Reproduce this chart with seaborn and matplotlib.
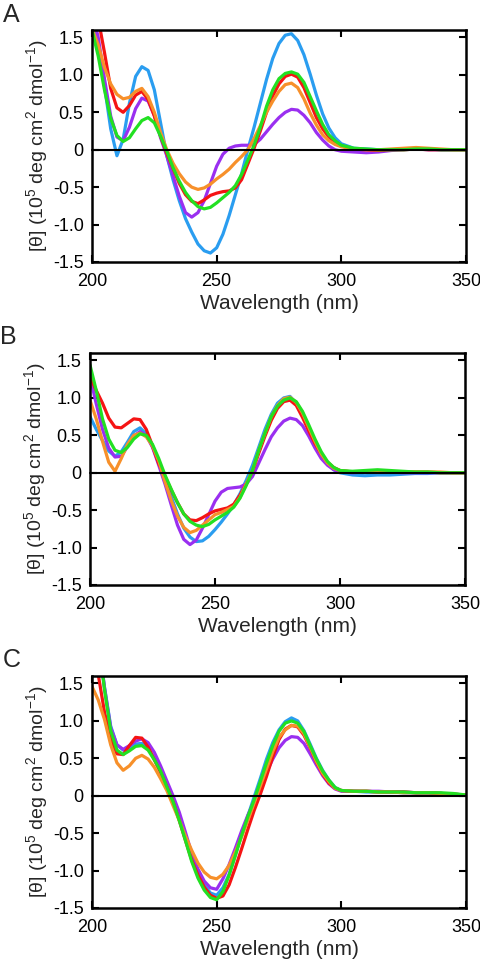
import matplotlib
matplotlib.use("Agg")
import matplotlib.pyplot as plt
import seaborn as sns
import pandas as pd

sns.set_style("ticks")
plt.rcParams['font.family'] = ['Liberation Sans', 'DejaVu Sans']
plt.rcParams['mathtext.default'] = 'regular'

# wavelength grid (nm)
wavelength = [200, 202.5, 205, 207.5, 210, 212.5, 215, 217.5, 220, 222.5,
              225, 227.5, 230, 232.5, 235, 237.5, 240, 242.5, 245, 247.5,
              250, 252.5, 255, 257.5, 260, 262.5, 265, 267.5, 270, 272.5,
              275, 277.5, 280, 282.5, 285, 287.5, 290, 292.5, 295, 297.5,
              300, 305, 310, 315, 320, 325, 330, 335, 340, 345, 350]

samples = ["blue", "purple", "red", "orange", "green"]
colors = {"blue": "#2a9df0", "purple": "#9a2ff0", "red": "#f51414",
          "orange": "#f7902a", "green": "#22e022"}

# ---- Panel A ----
A_blue = [1.75, 1.35, 0.85, 0.28, -0.08, 0.14, 0.62, 0.98, 1.11, 1.06,
          0.80, 0.36, -0.08, -0.40, -0.68, -0.92, -1.10, -1.26, -1.35, -1.38,
          -1.31, -1.13, -0.88, -0.60, -0.32, 0.00, 0.30, 0.62, 0.94, 1.22,
          1.42, 1.53, 1.55, 1.46, 1.27, 1.01, 0.73, 0.48, 0.29, 0.16,
          0.08, 0.02, 0.01, 0.00, 0.00, 0.01, 0.02, 0.01, 0.00, 0.00, 0.00]
A_red = [2.10, 1.75, 1.30, 0.82, 0.56, 0.50, 0.59, 0.73, 0.78, 0.67,
         0.45, 0.18, -0.05, -0.25, -0.45, -0.60, -0.69, -0.72, -0.67, -0.61,
         -0.58, -0.56, -0.55, -0.51, -0.40, -0.19, 0.02, 0.25, 0.50, 0.72,
         0.88, 0.98, 1.01, 0.97, 0.83, 0.63, 0.43, 0.28, 0.17, 0.10,
         0.05, 0.01, 0.00, -0.01, 0.00, 0.00, 0.01, 0.00, 0.00, 0.00, 0.00]
A_orange = [1.62, 1.40, 1.10, 0.88, 0.74, 0.68, 0.70, 0.78, 0.82, 0.71,
            0.50, 0.23, 0.00, -0.18, -0.32, -0.43, -0.50, -0.53, -0.51, -0.46,
            -0.39, -0.33, -0.26, -0.17, -0.09, 0.00, 0.15, 0.32, 0.50, 0.65,
            0.78, 0.87, 0.89, 0.83, 0.68, 0.49, 0.33, 0.20, 0.12, 0.07,
            0.04, 0.01, 0.00, 0.00, 0.01, 0.02, 0.03, 0.02, 0.01, 0.00, 0.00]
A_purple = [1.85, 1.50, 0.95, 0.45, 0.17, 0.12, 0.30, 0.55, 0.69, 0.65,
            0.46, 0.16, -0.08, -0.35, -0.62, -0.84, -0.90, -0.84, -0.68, -0.45,
            -0.22, -0.06, 0.02, 0.05, 0.06, 0.06, 0.07, 0.14, 0.24, 0.34,
            0.43, 0.50, 0.54, 0.53, 0.46, 0.36, 0.23, 0.13, 0.05, 0.00,
            -0.02, -0.03, -0.04, -0.03, -0.01, 0.00, 0.01, 0.00, 0.00, 0.00, 0.00]
A_green = [1.60, 1.25, 0.80, 0.42, 0.19, 0.11, 0.16, 0.28, 0.39, 0.43,
           0.36, 0.18, -0.02, -0.24, -0.42, -0.57, -0.68, -0.76, -0.79, -0.77,
           -0.71, -0.64, -0.57, -0.48, -0.33, -0.14, 0.06, 0.30, 0.58, 0.80,
           0.95, 1.02, 1.04, 1.01, 0.90, 0.71, 0.52, 0.34, 0.20, 0.12,
           0.06, 0.02, 0.01, 0.00, 0.00, 0.00, 0.01, 0.01, 0.00, 0.00, 0.00]

# ---- Panel B ----
B_red = [1.28, 1.10, 0.93, 0.73, 0.61, 0.60, 0.66, 0.72, 0.71, 0.58,
         0.36, 0.12, -0.05, -0.23, -0.40, -0.55, -0.63, -0.64, -0.60, -0.55,
         -0.51, -0.49, -0.47, -0.42, -0.30, -0.15, 0.02, 0.26, 0.49, 0.70,
         0.86, 0.95, 0.97, 0.90, 0.74, 0.56, 0.39, 0.25, 0.14, 0.07,
         0.03, 0.01, 0.01, 0.01, 0.01, 0.01, 0.01, 0.01, 0.00, 0.00, 0.00]
B_blue = [0.75, 0.58, 0.43, 0.29, 0.22, 0.28, 0.41, 0.55, 0.60, 0.52,
          0.35, 0.13, -0.08, -0.32, -0.55, -0.74, -0.86, -0.92, -0.91, -0.85,
          -0.76, -0.66, -0.55, -0.43, -0.28, -0.10, 0.10, 0.34, 0.58, 0.78,
          0.93, 1.00, 1.02, 0.93, 0.78, 0.60, 0.41, 0.25, 0.12, 0.04,
          0.00, -0.03, -0.04, -0.03, -0.03, -0.02, -0.01, -0.01, 0.00, 0.00, 0.00]
B_orange = [0.97, 0.72, 0.42, 0.14, 0.02, 0.19, 0.38, 0.50, 0.53, 0.48,
            0.36, 0.16, -0.12, -0.37, -0.58, -0.73, -0.80, -0.77, -0.70, -0.63,
            -0.56, -0.53, -0.49, -0.45, -0.33, -0.15, 0.03, 0.30, 0.53, 0.75,
            0.90, 0.99, 1.01, 0.94, 0.80, 0.61, 0.42, 0.25, 0.13, 0.06,
            0.03, 0.01, 0.01, 0.02, 0.01, 0.01, 0.01, 0.01, 0.01, 0.00, 0.00]
B_purple = [1.29, 0.92, 0.58, 0.33, 0.21, 0.22, 0.35, 0.49, 0.55, 0.50,
            0.34, 0.10, -0.15, -0.43, -0.70, -0.89, -0.96, -0.90, -0.74, -0.56,
            -0.38, -0.26, -0.21, -0.20, -0.19, -0.15, -0.05, 0.13, 0.31, 0.48,
            0.60, 0.69, 0.73, 0.71, 0.63, 0.49, 0.33, 0.19, 0.10, 0.04,
            0.01, 0.00, 0.01, 0.01, 0.01, 0.00, 0.00, 0.00, 0.00, 0.00, 0.00]
B_green = [1.44, 1.10, 0.72, 0.45, 0.30, 0.27, 0.34, 0.45, 0.52, 0.50,
           0.38, 0.19, -0.03, -0.22, -0.40, -0.55, -0.65, -0.70, -0.72, -0.69,
           -0.63, -0.58, -0.53, -0.46, -0.34, -0.17, 0.03, 0.30, 0.53, 0.75,
           0.89, 0.97, 1.00, 0.95, 0.82, 0.64, 0.45, 0.28, 0.15, 0.07,
           0.03, 0.02, 0.03, 0.04, 0.03, 0.02, 0.01, 0.01, 0.00, 0.00, 0.00]

# ---- Panel C ----
C_red = [2.10, 1.62, 1.12, 0.76, 0.56, 0.55, 0.67, 0.78, 0.77, 0.65,
         0.48, 0.31, 0.12, -0.08, -0.33, -0.60, -0.86, -1.06, -1.22, -1.33,
         -1.37, -1.34, -1.19, -0.96, -0.71, -0.45, -0.20, 0.02, 0.26, 0.52,
         0.75, 0.89, 0.94, 0.92, 0.81, 0.64, 0.45, 0.29, 0.17, 0.10,
         0.07, 0.06, 0.06, 0.05, 0.05, 0.05, 0.04, 0.04, 0.03, 0.02, 0.01]
C_orange = [1.46, 1.28, 1.02, 0.68, 0.44, 0.34, 0.40, 0.50, 0.54, 0.49,
            0.38, 0.23, 0.07, -0.13, -0.33, -0.54, -0.73, -0.90, -1.02, -1.09,
            -1.11, -1.05, -0.93, -0.75, -0.55, -0.33, -0.10, 0.13, 0.36, 0.59,
            0.78, 0.88, 0.94, 0.93, 0.83, 0.65, 0.46, 0.30, 0.19, 0.10,
            0.07, 0.06, 0.06, 0.05, 0.05, 0.04, 0.04, 0.04, 0.03, 0.02, 0.01]
C_blue = [2.30, 2.10, 1.45, 0.93, 0.68, 0.61, 0.64, 0.69, 0.70, 0.63,
          0.50, 0.34, 0.15, -0.05, -0.30, -0.56, -0.83, -1.03, -1.19, -1.30,
          -1.33, -1.23, -1.05, -0.79, -0.52, -0.27, -0.02, 0.23, 0.49, 0.71,
          0.88, 0.99, 1.04, 1.00, 0.87, 0.69, 0.50, 0.34, 0.21, 0.11,
          0.07, 0.06, 0.05, 0.05, 0.05, 0.04, 0.04, 0.04, 0.03, 0.02, 0.01]
C_green = [2.30, 2.10, 1.42, 0.87, 0.61, 0.55, 0.60, 0.66, 0.67, 0.61,
           0.48, 0.33, 0.12, -0.08, -0.33, -0.60, -0.88, -1.10, -1.26, -1.36,
           -1.39, -1.28, -1.06, -0.80, -0.53, -0.28, -0.06, 0.19, 0.44, 0.67,
           0.86, 0.97, 1.00, 0.97, 0.86, 0.67, 0.49, 0.33, 0.21, 0.11,
           0.07, 0.06, 0.06, 0.05, 0.05, 0.05, 0.04, 0.04, 0.04, 0.03, 0.01]
C_purple = [2.30, 2.10, 1.45, 0.91, 0.68, 0.62, 0.67, 0.73, 0.76, 0.71,
            0.58, 0.40, 0.20, 0.00, -0.22, -0.49, -0.77, -0.98, -1.14, -1.23,
            -1.25, -1.11, -0.92, -0.70, -0.47, -0.26, -0.08, 0.12, 0.31, 0.49,
            0.64, 0.74, 0.79, 0.78, 0.70, 0.56, 0.41, 0.27, 0.16, 0.09,
            0.06, 0.06, 0.06, 0.06, 0.05, 0.05, 0.04, 0.04, 0.03, 0.02, 0.01]

panels = {
    "A": {"blue": A_blue, "purple": A_purple, "red": A_red, "orange": A_orange, "green": A_green},
    "B": {"blue": B_blue, "purple": B_purple, "red": B_red, "orange": B_orange, "green": B_green},
    "C": {"blue": C_blue, "purple": C_purple, "red": C_red, "orange": C_orange, "green": C_green},
}

yticks = [1.5, 1.0, 0.5, 0, -0.5, -1.0, -1.5]
ytick_labels = ["1.5", "1.0", "0.5", "0", "-0.5", "-1.0", "-1.5"]
xticks = [200, 250, 300, 350]
xtick_labels = ["200", "250", "300", "350"]

W, H = 481, 964
fig = plt.figure(figsize=(W / 100, H / 100), dpi=100)

# axes boxes in pixels: (left, top, right, bottom)
boxes = {"A": (92, 30, 466, 262), "B": (90, 353, 465, 585), "C": (92, 676, 466, 908)}
letter_pos = {"A": (3, 22), "B": (0, 344), "C": (3, 667)}

for name, series in panels.items():
    l, t, r, b = boxes[name]
    ax = fig.add_axes([l / W, 1 - b / H, (r - l) / W, (b - t) / H])
    rows = []
    for s in samples:
        vals = series[s]
        assert len(vals) == len(wavelength), (name, s, len(vals))
        for x, y in zip(wavelength, vals):
            rows.append({"wl": x, "theta": y, "sample": s})
    df = pd.DataFrame(rows)
    sns.lineplot(data=df, x="wl", y="theta", hue="sample", hue_order=samples,
                 palette=colors, estimator=None, sort=False, legend=False,
                 lw=2.3, ax=ax)
    for line in ax.get_lines():
        line.set_solid_joinstyle("round")
        line.set_solid_capstyle("round")
    ax.axhline(0, color="black", lw=1.5, zorder=5, clip_on=False)
    ax.set_xlim(200, 350)
    ax.set_ylim(-1.5, 1.6)
    ax.set_xticks(xticks)
    ax.set_xticklabels(xtick_labels)
    ax.set_yticks(yticks)
    ax.set_yticklabels(ytick_labels)
    ax.tick_params(direction="in", length=5, width=1.5, top=True, right=True,
                   labelsize=13, colors="black")
    ax.tick_params(axis="x", pad=8)
    ax.tick_params(axis="y", pad=6)
    for sp in ax.spines.values():
        sp.set_linewidth(1.8)
        sp.set_color("black")
    ax.set_xlabel("Wavelength (nm)", fontsize=15, labelpad=3)
    ax.set_ylabel("[θ] (10$^{5}$ deg cm$^{2}$ dmol$^{-1}$)", fontsize=14, labelpad=2)
    lx, ly = letter_pos[name]
    fig.text(lx / W, 1 - ly / H, name, fontsize=18, ha="left", va="baseline")

fig.savefig("out.png", dpi=100)
